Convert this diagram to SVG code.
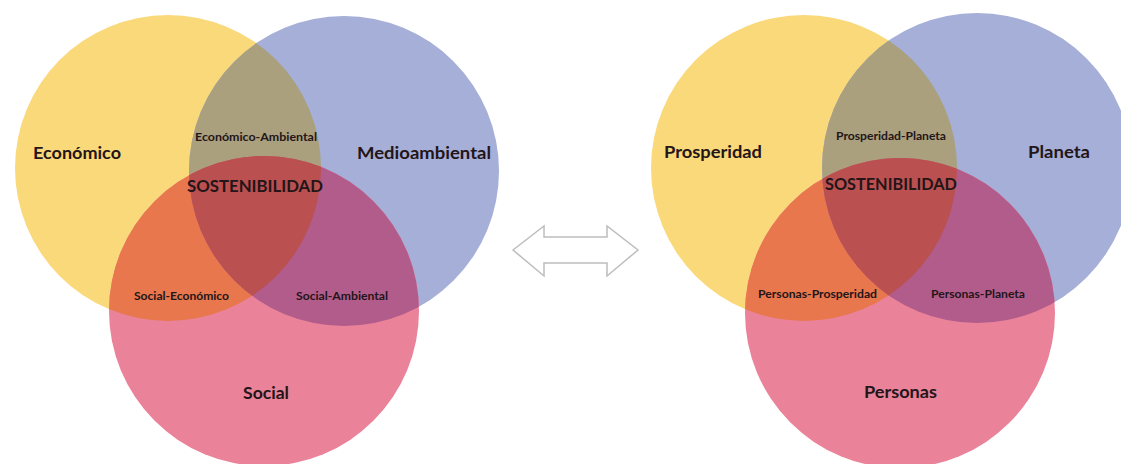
<svg xmlns="http://www.w3.org/2000/svg" width="1121" height="464" viewBox="0 0 1121 464">
<style>
.y{fill:#FAD97A}.b{fill:#A5AFD7}.p{fill:#EA8399}
.yb{fill:#AAA07E}.yp{fill:#E8774E}.bp{fill:#B25C8B}.ybp{fill:#BA5050}
text{font-family:Lato,"Open Sans","Liberation Sans",sans-serif;font-weight:bold;fill:#231518;text-anchor:middle}
.big{font-size:17px}.sm{font-size:11px}
</style>
<defs>
<clipPath id="cLY"><circle cx="168" cy="168" r="153"/></clipPath>
<clipPath id="cLB"><circle cx="344" cy="171" r="155"/></clipPath>
<clipPath id="cRY"><circle cx="804" cy="168" r="153"/></clipPath>
<clipPath id="cRB"><circle cx="977" cy="168" r="155"/></clipPath>
</defs>
<rect width="1121" height="464" fill="#fff"/>

<!-- Left diagram -->
<g id="left-economico"><circle class="y" cx="168" cy="168" r="153"/></g>
<g id="left-medioambiental"><circle class="b" cx="344" cy="171" r="155"/></g>
<g id="left-social"><circle class="p" cx="264" cy="311" r="155"/></g>
<g id="left-overlaps">
<circle class="yb" cx="344" cy="171" r="155" clip-path="url(#cLY)"/>
<circle class="yp" cx="264" cy="311" r="155" clip-path="url(#cLY)"/>
<circle class="bp" cx="264" cy="311" r="155" clip-path="url(#cLB)"/>
<g clip-path="url(#cLY)"><circle class="ybp" cx="264" cy="311" r="155" clip-path="url(#cLB)"/></g>
</g>
<g id="left-labels">
<text class="big" x="77" y="159" textLength="88" lengthAdjust="spacingAndGlyphs">Económico</text>
<text class="big" x="424" y="159" textLength="134" lengthAdjust="spacingAndGlyphs">Medioambiental</text>
<text class="sm" x="256" y="141" textLength="122" lengthAdjust="spacingAndGlyphs">Económico-Ambiental</text>
<text class="big" x="255" y="192" textLength="136" lengthAdjust="spacingAndGlyphs">SOSTENIBILIDAD</text>
<text class="sm" x="181.5" y="300" textLength="95" lengthAdjust="spacingAndGlyphs">Social-Económico</text>
<text class="sm" x="342" y="300" textLength="92" lengthAdjust="spacingAndGlyphs">Social-Ambiental</text>
<text class="big" x="266" y="399" textLength="46" lengthAdjust="spacingAndGlyphs">Social</text>
</g>

<!-- Connector -->
<g id="connectors">
<polygon points="513,250 544,226 544,237 607,237 607,226 638,250 607,276 607,263 544,263 544,276" fill="#fff" stroke="#bdbdbd" stroke-width="1.5" stroke-linejoin="miter"/>
</g>

<!-- Right diagram -->
<g id="right-prosperidad"><circle class="y" cx="804" cy="168" r="153"/></g>
<g id="right-planeta"><circle class="b" cx="977" cy="168" r="155"/></g>
<g id="right-personas"><circle class="p" cx="900" cy="313" r="155"/></g>
<g id="right-overlaps">
<circle class="yb" cx="977" cy="168" r="155" clip-path="url(#cRY)"/>
<circle class="yp" cx="900" cy="313" r="155" clip-path="url(#cRY)"/>
<circle class="bp" cx="900" cy="313" r="155" clip-path="url(#cRB)"/>
<g clip-path="url(#cRY)"><circle class="ybp" cx="900" cy="313" r="155" clip-path="url(#cRB)"/></g>
</g>
<g id="right-labels">
<text class="big" x="713" y="158" textLength="98" lengthAdjust="spacingAndGlyphs">Prosperidad</text>
<text class="big" x="1059" y="158" textLength="62" lengthAdjust="spacingAndGlyphs">Planeta</text>
<text class="sm" x="891" y="140" textLength="110" lengthAdjust="spacingAndGlyphs">Prosperidad-Planeta</text>
<text class="big" x="891" y="190" textLength="132" lengthAdjust="spacingAndGlyphs">SOSTENIBILIDAD</text>
<text class="sm" x="817.5" y="298" textLength="119" lengthAdjust="spacingAndGlyphs">Personas-Prosperidad</text>
<text class="sm" x="978" y="298" textLength="94" lengthAdjust="spacingAndGlyphs">Personas-Planeta</text>
<text class="big" x="900.5" y="398" textLength="73" lengthAdjust="spacingAndGlyphs">Personas</text>
</g>
</svg>
